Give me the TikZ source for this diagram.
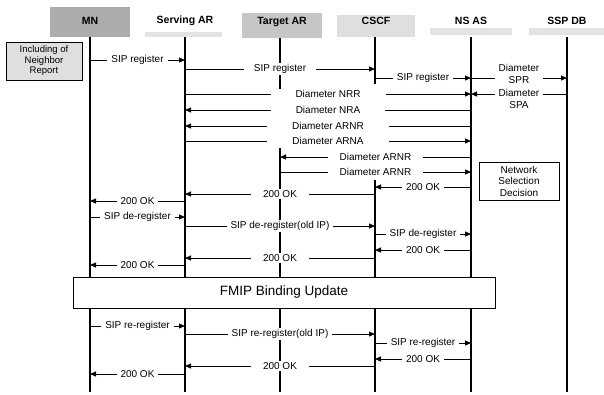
\documentclass[tikz,border=0pt]{standalone}
\usepackage{fontspec}
\setmainfont{Liberation Sans}
\usetikzlibrary{arrows.meta}
\begin{document}
\begin{tikzpicture}[x=1pt,y=-1pt,
  life/.style={line width=2.6pt},
  msg/.style={line width=1pt,-{Triangle[length=6pt,width=5pt]}},
  lbl/.style={fill=white,inner xsep=4pt,inner ysep=1pt,font=\fontsize{10}{11.5}\selectfont},
  wide/.style={lbl,inner xsep=25pt},
  mid/.style={lbl,inner xsep=12pt},
  hdr/.style={font=\fontsize{10.5}{12}\selectfont\bfseries},
  strip/.style={fill=gray!22,draw=none},
]
\useasboundingbox (0,0) rectangle (604,394);
% lifeline positions
\coordinate (MN) at (90,0);
\coordinate (SAR) at (185,0);
\coordinate (TAR) at (280,0);
\coordinate (CSCF) at (375,0);
\coordinate (NSAS) at (471,0);
\coordinate (SSP) at (567,0);
% headers
\fill[gray!65] (50,7) rectangle (130,37);
\node[hdr] (hMN) at (90,21) {MN};
\fill[strip] (145,32) rectangle (222,37);
\node[hdr] (hSAR) at (185,21) {Serving AR};
\fill[gray!45] (242,13) rectangle (322,38);
\node[hdr] (hTAR) at (282,22) {Target AR};
\fill[gray!25] (337,15) rectangle (415,37);
\node[hdr] (hCSCF) at (376,21) {CSCF};
\fill[strip] (430,28) rectangle (512,35);
\node[hdr] (hNSAS) at (471,21) {NS AS};
\fill[strip] (529,28) rectangle (604,35);
\node[hdr] (hSSP) at (567,21) {SSP DB};
% lifelines
\draw[life] (MN|-0,37) -- (MN|-0,392);
\draw[life] (SAR|-0,37) -- (SAR|-0,392);
\draw[life] (TAR|-0,38) -- (TAR|-0,96);
\draw[life] (TAR|-0,148) -- (TAR|-0,392);
\draw[life] (CSCF|-0,37) -- (CSCF|-0,84);
\draw[life] (CSCF|-0,180) -- (CSCF|-0,392);
\draw[life] (NSAS|-0,37) -- (NSAS|-0,392);
\draw[life] (SSP|-0,37) -- (SSP|-0,392);
% neighbor report box
\node[draw,line width=0.9pt,fill=gray!25,align=center,minimum width=76pt,minimum height=38pt,
  inner sep=1pt,font=\fontsize{9.5}{10.5}\selectfont] (nbr) at (44,61) {Including of\\Neighbor\\Report};
% messages
\draw[msg] (MN|-0,60) -- node[lbl]{SIP register} (SAR|-0,60);
\draw[msg] (SAR|-0,69) -- node[lbl,inner xsep=10pt]{SIP register} (CSCF|-0,69);
\draw[msg] (CSCF|-0,78) -- node[lbl]{SIP register} (NSAS|-0,78);
\draw[msg] (NSAS|-0,78) -- node[lbl,align=center,yshift=4pt]{Diameter\\SPR} (SSP|-0,78);
\draw[msg] (SAR|-0,94) -- node[wide]{Diameter NRR} (NSAS|-0,94);
\draw[msg] (SSP|-0,94) -- node[lbl,align=center,yshift=-5pt]{Diameter\\SPA} (NSAS|-0,94);
\draw[msg] (NSAS|-0,110) -- node[wide]{Diameter NRA} (SAR|-0,110);
\draw[msg] (NSAS|-0,126) -- node[wide]{Diameter ARNR} (SAR|-0,126);
\draw[msg] (SAR|-0,141) -- node[wide]{Diameter ARNA} (NSAS|-0,141);
\draw[msg] (NSAS|-0,157) -- node[mid]{Diameter ARNR} (TAR|-0,157);
\draw[msg] (TAR|-0,172) -- node[mid]{Diameter ARNR} (NSAS|-0,172);
\node[draw,line width=0.9pt,fill=white,align=center,minimum width=80pt,minimum height=38pt,
  inner sep=1pt,font=\fontsize{10}{11.5}\selectfont] (nsd) at (519,181) {Network\\Selection\\Decision};
\draw[msg] (NSAS|-0,187) -- node[lbl]{200 OK} (CSCF|-0,187);
\draw[msg] (CSCF|-0,194) -- node[mid]{200 OK} (SAR|-0,194);
\draw[msg] (SAR|-0,201) -- node[lbl]{200 OK} (MN|-0,201);
\draw[msg] (MN|-0,217) -- node[lbl]{SIP de-register} (SAR|-0,217);
\draw[msg] (SAR|-0,226) -- node[lbl]{SIP de-register(old IP)} (CSCF|-0,226);
\draw[msg] (CSCF|-0,234) -- node[lbl]{SIP de-register} (NSAS|-0,234);
\draw[msg] (NSAS|-0,250) -- node[lbl]{200 OK} (CSCF|-0,250);
\draw[msg] (CSCF|-0,258) -- node[mid]{200 OK} (SAR|-0,258);
\draw[msg] (SAR|-0,265) -- node[lbl]{200 OK} (MN|-0,265);
% FMIP box
\node[draw,line width=0.9pt,fill=white,minimum width=422pt,minimum height=31pt,
  font=\fontsize{13.5}{15}\selectfont] (fmip) at (284,292.5) {FMIP Binding Update};
\draw[msg] (MN|-0,326) -- node[lbl]{SIP re-register} (SAR|-0,326);
\draw[msg] (SAR|-0,334) -- node[lbl]{SIP re-register(old IP)} (CSCF|-0,334);
\draw[msg] (CSCF|-0,343) -- node[lbl]{SIP re-register} (NSAS|-0,343);
\draw[msg] (NSAS|-0,359) -- node[lbl]{200 OK} (CSCF|-0,359);
\draw[msg] (CSCF|-0,366) -- node[mid]{200 OK} (SAR|-0,366);
\draw[msg] (SAR|-0,374) -- node[lbl]{200 OK} (MN|-0,374);
\end{tikzpicture}
\end{document}
